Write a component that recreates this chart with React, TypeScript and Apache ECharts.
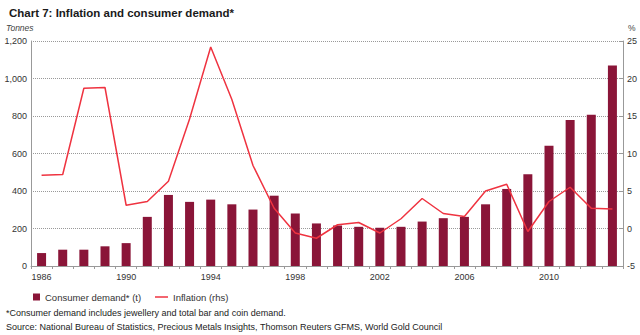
import React, { useEffect, useRef } from "react";
import * as echarts from "echarts";

const years = ["1986","1987","1988","1989","1990","1991","1992","1993","1994","1995","1996","1997","1998","1999","2000","2001","2002","2003","2004","2005","2006","2007","2008","2009","2010","2011","2012","2013"];
const consumerDemand = [69, 87, 87, 105, 122, 262, 379, 342, 354, 329, 301, 375, 280, 227, 216, 209, 204, 209, 237, 255, 262, 329, 411, 490, 642, 779, 807, 1069];
const inflation = [7.1, 7.2, 18.7, 18.8, 3.1, 3.6, 6.3, 14.6, 24.2, 17.2, 8.4, 2.7, -0.6, -1.3, 0.5, 0.8, -0.6, 1.3, 4.0, 2.0, 1.6, 5.0, 5.9, -0.4, 3.6, 5.5, 2.7, 2.6];
const leftTicks = { min: 0, max: 1200, interval: 200 };
const rightTicks = { min: -5, max: 25, interval: 5 };

const FONT = "'Liberation Sans', Arial, sans-serif";
const NARROW = "'Liberation Sans Narrow', 'Liberation Sans', Arial, sans-serif";

export default function App() {
  const ref = useRef<HTMLDivElement>(null);
  useEffect(() => {
    document.body.style.margin = "0";
    const chart = echarts.init(ref.current!, null, { renderer: "svg" });
    chart.setOption({
      animation: false,
      backgroundColor: "#ffffff",
      textStyle: { fontFamily: FONT },
      title: {
        text: "Chart 7: Inflation and consumer demand*",
        left: 4,
        top: 2,
        textStyle: { fontFamily: NARROW, fontSize: 11.5, fontWeight: "bold", color: "#1a1a1a" },
      },
      grid: { left: 31, right: 16, top: 41, bottom: 69, containLabel: false },
      legend: [
        {
          data: [{ name: "Consumer demand* (t)", icon: "rect" }],
          left: 28,
          top: 287,
          itemWidth: 7,
          itemHeight: 7,
          textStyle: { fontSize: 9.5, color: "#333", fontFamily: FONT },
        },
        {
          data: [{ name: "Inflation (rhs)", icon: "rect" }],
          left: 150,
          top: 287,
          itemWidth: 13,
          itemHeight: 1.5,
          textStyle: { fontSize: 9.5, color: "#333", fontFamily: FONT },
        },
      ],
      graphic: [
        { type: "text", left: 6, top: 23, style: { text: "Tonnes", fontSize: 8.5, fontStyle: "italic", fill: "#444", fontFamily: FONT } },
        { type: "text", left: 628, top: 23, style: { text: "%", fontSize: 8.5, fill: "#444", fontFamily: FONT } },
        { type: "text", left: 6, top: 308, style: { text: "*Consumer demand includes jewellery and total bar and coin demand.", fontSize: 9, fill: "#222", fontFamily: FONT } },
        { type: "text", left: 6, top: 322, style: { text: "Source: National Bureau of Statistics, Precious Metals Insights, Thomson Reuters GFMS, World Gold Council", fontSize: 9, fill: "#222", fontFamily: FONT } },
      ],
      xAxis: {
        type: "category",
        data: years,
        boundaryGap: true,
        axisLine: { lineStyle: { color: "#999", width: 1 } },
        axisTick: { show: true, interval: 0, length: 3, alignWithLabel: false, lineStyle: { color: "#999" } },
        axisLabel: { interval: 3, fontSize: 9, color: "#333", margin: 6 },
        splitLine: { show: false },
      },
      yAxis: [
        {
          type: "value",
          min: leftTicks.min,
          max: leftTicks.max,
          interval: leftTicks.interval,
          axisLine: { show: true, lineStyle: { color: "#999", width: 1 } },
          axisTick: { show: false },
          axisLabel: {
            fontSize: 9,
            color: "#333",
            margin: 4,
            formatter: (v: number) => v.toLocaleString("en-US"),
          },
          splitLine: { show: true, lineStyle: { color: "#999", type: [1, 1], width: 1 } },
        },
        {
          type: "value",
          position: "right",
          min: rightTicks.min,
          max: rightTicks.max,
          interval: rightTicks.interval,
          axisLine: { show: true, lineStyle: { color: "#999", width: 1 } },
          axisTick: { show: true, inside: true, length: 3, lineStyle: { color: "#999" } },
          axisLabel: { fontSize: 9, color: "#333", margin: 4 },
          splitLine: { show: false },
        },
      ],
      series: [
        {
          name: "Consumer demand* (t)",
          type: "bar",
          data: consumerDemand,
          barWidth: 9,
          itemStyle: { color: "#8a1538" },
          yAxisIndex: 0,
        },
        {
          name: "Inflation (rhs)",
          type: "line",
          data: inflation,
          yAxisIndex: 1,
          symbol: "none",
          lineStyle: { color: "#ef3340", width: 1.5 },
          itemStyle: { color: "#ef3340" },
        },
      ],
    });
    return () => chart.dispose();
  }, []);
  return <div ref={ref} style={{ width: 640, height: 335 }} />;
}
